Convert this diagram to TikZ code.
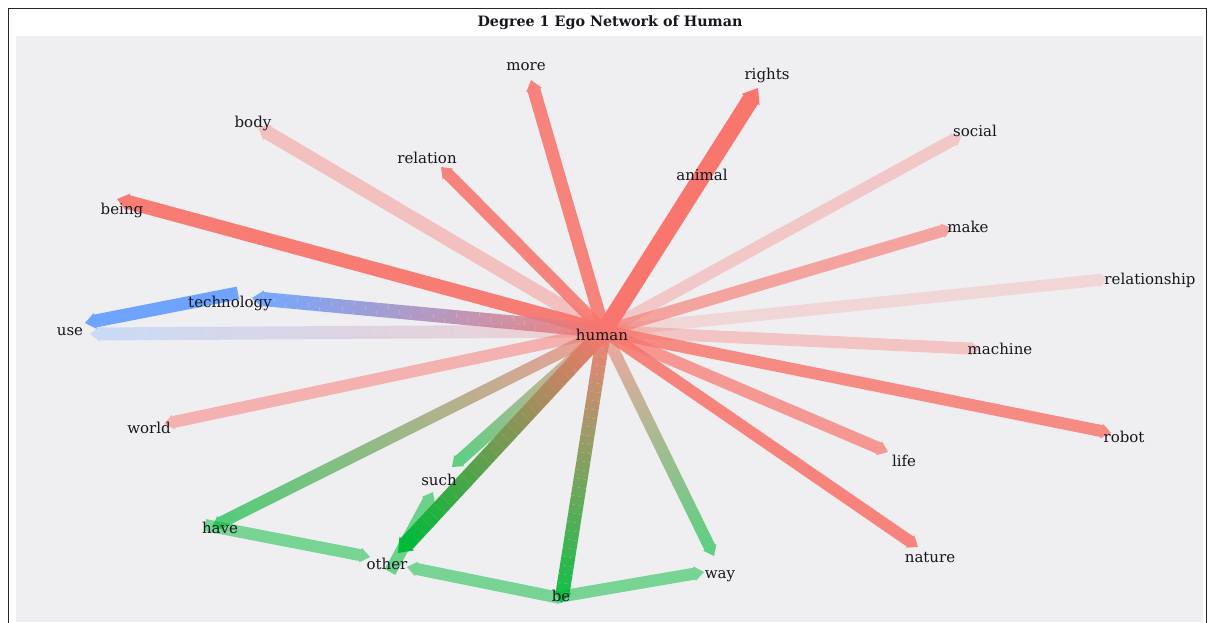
\documentclass[tikz,border=0pt]{standalone}
\usepackage{fontspec}
\setmainfont{DejaVu Serif}
\usetikzlibrary{calc}
\pgfdeclarelayer{back}
\pgfdeclarelayer{edges}
\pgfsetlayers{back,edges,main}
\definecolor{cR}{HTML}{F8766D}
\definecolor{cG}{HTML}{00BA38}
\definecolor{cB}{HTML}{619CFF}
\definecolor{panel}{HTML}{EFEFF2}
\definecolor{ink}{HTML}{16161E}
\tikzset{
  lbl/.style={anchor=base, text=ink, font=\fontsize{15}{17}\selectfont, inner sep=0pt},
  ttl/.style={anchor=base, text=ink, font=\fontsize{14.3}{16}\selectfont\bfseries, inner sep=0pt},
  frame/.style={draw=black!85, line width=1pt},
}
% single colour edge: from, to, width, colour, opacity
\newcommand\sedge[5]{%
  \path (#1); \pgfgetlastxy{\nax}{\nay}%
  \path (#2); \pgfgetlastxy{\nbx}{\nby}%
  \pgfmathsetmacro\neang{atan2(\nby-\nay,\nbx-\nax)}%
  \pgfmathsetmacro\nelen{veclen(\nbx-\nax,\nby-\nay)}%
  \pgfmathsetmacro\nesl{\nelen-0.8*#3}%
  \pgfmathsetmacro\nehw{#3/2}%
  \pgfmathsetmacro\nehh{0.62*#3}%
  \begin{scope}[shift={(\nax,\nay)}, rotate=\neang]
    \fill[#4, opacity=#5] (0pt,-\nehw pt) -- (\nesl pt,-\nehw pt) -- (\nesl pt,-\nehh pt)
      -- (\nelen pt,0pt) -- (\nesl pt,\nehh pt) -- (\nesl pt,\nehw pt) -- (0pt,\nehw pt) -- cycle;
  \end{scope}}
% gradient edge: from, to, width, colour A, colour B, opacity
\newcommand\gedge[6]{%
  \path (#1); \pgfgetlastxy{\nax}{\nay}%
  \path (#2); \pgfgetlastxy{\nbx}{\nby}%
  \pgfmathsetmacro\neang{atan2(\nby-\nay,\nbx-\nax)}%
  \pgfmathsetmacro\nelen{veclen(\nbx-\nax,\nby-\nay)}%
  \pgfmathsetmacro\nesl{\nelen-0.8*#3}%
  \pgfmathsetmacro\nehw{#3/2}%
  \pgfmathsetmacro\nehh{0.62*#3}%
  \begin{scope}[shift={(\nax,\nay)}, rotate=\neang, opacity=#6]
    \foreach \i in {0,...,29}{%
      \pgfmathsetmacro\nepa{\nesl*\i/30}%
      \pgfmathsetmacro\nepb{\nesl*(\i+1)/30}%
      \pgfmathtruncatemacro\nepc{100-100*(\i+0.5)/30}%
      \fill[#4!\nepc!#5] (\nepa pt,-\nehw pt) rectangle (\nepb pt,\nehw pt);
    }%
    \fill[#5] (\nesl pt,-\nehh pt) -- (\nelen pt,0pt) -- (\nesl pt,\nehh pt) -- cycle;
  \end{scope}}
\begin{document}
\begin{tikzpicture}[x=1pt, y=-1pt]
\useasboundingbox (0,0) rectangle (1209,622);
\begin{pgfonlayer}{back}
  \fill[white] (0,0) rectangle (1209,622);
  \fill[panel] (16,36) rectangle (1203,622);
  \draw[frame] (8,640) -- (8,8) -- (1206,8) -- (1206,640);
\end{pgfonlayer}
\node[ttl] (title) at (610,26) {Degree 1 Ego Network of Human};
% labels
\node[lbl] (more) at (526,70) {more};
\node[lbl] (rights) at (767,79) {rights};
\node[lbl] (body) at (253,127) {body};
\node[lbl] (relation) at (427,163) {relation};
\node[lbl] (animal) at (702,180) {animal};
\node[lbl] (social) at (975,136) {social};
\node[lbl] (being) at (122,214) {being};
\node[lbl] (make) at (968,232) {make};
\node[lbl] (relationship) at (1150,284) {relationship};
\node[lbl] (technology) at (230,307) {technology};
\node[lbl] (use) at (70,335) {use};
\node[lbl] (human) at (602,340) {human};
\node[lbl] (machine) at (1000,354) {machine};
\node[lbl] (world) at (149,433) {world};
\node[lbl] (robot) at (1124,442) {robot};
\node[lbl] (life) at (904,466) {life};
\node[lbl] (such) at (439,485) {such};
\node[lbl] (have) at (220,533) {have};
\node[lbl] (nature) at (930,562) {nature};
\node[lbl] (other) at (387,569) {other};
\node[lbl] (way) at (720,578) {way};
\node[lbl] (be) at (561,601) {be};
% edge end points
\coordinate (hc) at (604,331);
\coordinate (e-more) at (531,80);
\coordinate (e-rights) at (758,88);
\coordinate (e-body) at (258,127);
\coordinate (e-relation) at (441,167);
\coordinate (e-social) at (962,135);
\coordinate (e-being) at (117,199);
\coordinate (e-make) at (952,228);
\coordinate (e-relationship) at (1108,279);
\coordinate (e-machine) at (980,349);
\coordinate (e-world) at (164,424);
\coordinate (e-robot) at (1111,433);
\coordinate (e-life) at (888,452);
\coordinate (e-nature) at (918,547);
\coordinate (e-technology) at (252,298);
\coordinate (e-use) at (90,334);
\coordinate (e-such) at (452,467);
\coordinate (e-have) at (212,527);
\coordinate (e-other) at (398,553);
\coordinate (e-be) at (561,603);
\coordinate (e-way) at (714,556);
\coordinate (s-technology) at (238,293);
\coordinate (e-use2) at (85,323);
\coordinate (s-have) at (205,525);
\coordinate (e-other2) at (370,557);
\coordinate (s-other) at (390,572);
\coordinate (e-such2) at (433,492);
\coordinate (s-be) at (560,598);
\coordinate (e-other3) at (407,567);
\coordinate (s-be2) at (558,597);
\coordinate (e-way2) at (704,572);
\begin{pgfonlayer}{edges}
  \sedge{hc}{e-relationship}{12}{cR}{0.2}
  \sedge{hc}{e-social}{12}{cR}{0.32}
  \sedge{hc}{e-machine}{12}{cR}{0.35}
  \sedge{hc}{e-body}{14}{cR}{0.38}
  \sedge{hc}{e-world}{12}{cR}{0.5}
  \sedge{hc}{e-make}{12}{cR}{0.62}
  \sedge{hc}{e-life}{12}{cR}{0.72}
  \sedge{hc}{e-robot}{12}{cR}{0.82}
  \sedge{hc}{e-nature}{12}{cR}{0.88}
  \sedge{hc}{e-relation}{12}{cR}{0.88}
  \sedge{hc}{e-more}{13}{cR}{0.88}
  \sedge{hc}{e-being}{14}{cR}{0.95}
  \sedge{hc}{e-rights}{17}{cR}{1}
  \gedge{hc}{e-use}{13}{cR}{cB}{0.25}
  \gedge{hc}{e-technology}{14}{cR}{cB}{0.85}
  \sedge{s-technology}{e-use2}{13}{cB}{0.9}
  \sedge{s-have}{e-other2}{12}{cG}{0.5}
  \sedge{s-other}{e-such2}{12}{cG}{0.55}
  \sedge{s-be}{e-other3}{12}{cG}{0.5}
  \sedge{s-be2}{e-way2}{12}{cG}{0.5}
  \gedge{hc}{e-such}{12}{cR}{cG}{0.6}
  \gedge{hc}{e-have}{12}{cR}{cG}{0.65}
  \gedge{hc}{e-way}{12}{cR}{cG}{0.6}
  \gedge{hc}{e-be}{14}{cR}{cG}{0.9}
  \gedge{hc}{e-other}{16}{cR}{cG}{1}
\end{pgfonlayer}
\end{tikzpicture}
\end{document}
